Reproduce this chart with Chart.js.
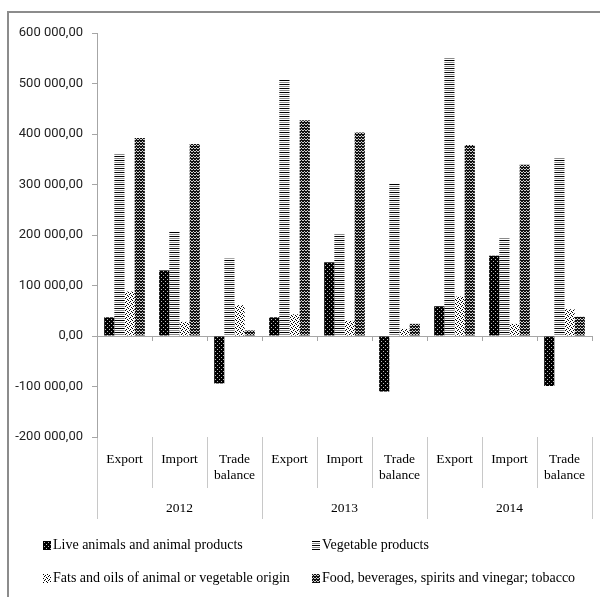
<!DOCTYPE html>
<html>
<head>
<meta charset="utf-8">
<script src="https://cdn.jsdelivr.net/npm/chart.js@4.4.1/dist/chart.umd.min.js"></script>
<style>
  html, body { margin: 0; padding: 0; background: #fff; }
  #wrap { position: relative; width: 600px; height: 597px; overflow: hidden; }
  #frame { position: absolute; left: 7px; top: 11px; right: -2px; bottom: -2px;
           border-top: 2px solid #8c8c8c; border-left: 2px solid #8c8c8c; }
  #chart { position: absolute; left: 0; top: 0; }
  .leg { position: absolute; font: 14px "Liberation Serif", "Times New Roman", serif;
         color: #000; white-space: nowrap; line-height: 16px; }
  .leg i { display: inline-block; width: 8px; height: 9px; margin-right: 2px; vertical-align: -1px; }
</style>
</head>
<body>
<div id="wrap">
  <div id="frame"></div>
  <canvas id="chart" width="600" height="597"></canvas>
  <div id="legend"></div>
</div>
<script>
// categories (two levels) and series
const categories = ['Export', 'Import', ['Trade', 'balance'],
                    'Export', 'Import', ['Trade', 'balance'],
                    'Export', 'Import', ['Trade', 'balance']];
const years = ['2012', '2013', '2014'];

const seriesNames = [
  'Live animals and animal products',
  'Vegetable products',
  'Fats and oils of animal or vegetable origin',
  'Food, beverages, spirits and vinegar; tobacco'
];
const liveAnimals = [37000, 130000, -94000, 37000, 146000, -110000, 59000, 159000, -99000];
const vegetable   = [361000, 206000, 154000, 507000, 202000, 302000, 551000, 194000, 354000];
const fatsOils    = [88000, 28000, 61000, 43000, 30000, 14000, 78000, 24000, 53000];
const foodDrinks  = [392000, 380000, 11000, 427000, 403000, 24000, 378000, 339000, 38000];

const yTicks = { min: -200000, max: 600000, step: 100000 };

// small bitmap fills, one per series
function makePattern(rows, on, off) {
  const c = document.createElement('canvas');
  c.width = rows[0].length;
  c.height = rows.length;
  const g = c.getContext('2d');
  rows.forEach((r, yy) => {
    for (let xx = 0; xx < r.length; xx++) {
      g.fillStyle = r[xx] === 'x' ? on : (r[xx] === 'g' ? '#8a8a8a' : off);
      g.fillRect(xx, yy, 1, 1);
    }
  });
  return c;
}

const tiles = [
  makePattern(['xxxx', 'x.xx', 'xxxx', 'xxx.'], '#000', '#bdbdbd'),
  makePattern(['x', '.', 'g', '.'], '#000', '#fff'),
  makePattern(['x...', '..x.', '.x..', '...x'], '#000', '#fff'),
  makePattern(['x.x', '.x.', 'xxx'], '#111', '#d0d0d0')
];

const ctx = document.getElementById('chart').getContext('2d');
const fills = tiles.map(t => ctx.createPattern(t, 'repeat'));

function fmt(v) {
  const s = Math.abs(v).toFixed(0).replace(/\B(?=(\d{3})+(?!\d))/g, ' ');
  return (v < 0 ? '-' : '') + s + ',00';
}

// short tick marks on the zero line between categories
const zeroTicks = {
  id: 'zeroTicks',
  afterDatasetsDraw(chart) {
    const x = chart.scales.x, y = chart.scales.y;
    const y0 = Math.round(y.getPixelForValue(0));
    const half = (x.getPixelForTick(1) - x.getPixelForTick(0)) / 2;
    const c = chart.ctx;
    c.save();
    c.strokeStyle = '#a6a6a6';
    c.lineWidth = 1;
    c.beginPath();
    for (let i = 0; i <= categories.length; i++) {
      const px = Math.round(x.getPixelForTick(0) - half + i * 2 * half) + 0.5;
      c.moveTo(px, y0);
      c.lineTo(px, y0 + 5);
    }
    c.stroke();
    c.restore();
  }
};

const serif = { family: '"Liberation Serif", "Times New Roman", serif', size: 13.5 };

new Chart(ctx, {
  type: 'bar',
  data: {
    labels: categories,
    datasets: [liveAnimals, vegetable, fatsOils, foodDrinks].map((d, i) => ({
      label: seriesNames[i],
      data: d,
      backgroundColor: fills[i],
      borderWidth: 0
    }))
  },
  options: {
    responsive: false,
    animation: false,
    datasets: { bar: { categoryPercentage: 0.74, barPercentage: 1.0 } },
    layout: { padding: { left: 0, right: 8, top: 33, bottom: 78 } },
    plugins: { legend: { display: false }, tooltip: { enabled: false } },
    scales: {
      y: {
        min: yTicks.min,
        max: yTicks.max,
        afterFit: s => { s.width = 97; },
        ticks: {
          stepSize: yTicks.step,
          padding: 9,
          color: '#222',
          font: { family: 'Roboto, "Open Sans", sans-serif', size: 13 },
          callback: v => fmt(v)
        },
        grid: {
          drawOnChartArea: true,
          tickLength: 5,
          tickColor: '#a6a6a6',
          color: c => (c.tick && c.tick.value === 0) ? '#a6a6a6' : 'rgba(0,0,0,0)'
        },
        border: { display: true, color: '#a6a6a6' }
      },
      x: {
        type: 'category',
        position: 'bottom',
        weight: 0,
        offset: true,
        afterFit: s => { s.height = 51; },
        grid: { offset: true, drawOnChartArea: false, tickLength: 51, color: '#c8c8c8' },
        border: { display: false },
        ticks: { padding: -37, color: '#000', font: serif, maxRotation: 0, autoSkip: false }
      },
      x2: {
        type: 'category',
        labels: years,
        position: 'bottom',
        weight: 1,
        offset: true,
        afterFit: s => { s.height = 31; },
        grid: { offset: true, drawOnChartArea: false, tickLength: 31, color: '#c8c8c8' },
        border: { display: false },
        ticks: { padding: -19, color: '#000', font: serif, maxRotation: 0, autoSkip: false }
      }
    }
  },
  plugins: [zeroTicks]
});

// legend in two fixed columns
const legendPos = [[43, 537], [312, 537], [43, 570], [312, 570]];
const legend = document.getElementById('legend');
seriesNames.forEach((name, i) => {
  const d = document.createElement('div');
  d.className = 'leg';
  d.style.left = legendPos[i][0] + 'px';
  d.style.top = legendPos[i][1] + 'px';
  const m = document.createElement('i');
  m.style.backgroundImage = 'url(' + tiles[i].toDataURL() + ')';
  d.appendChild(m);
  d.appendChild(document.createTextNode(name));
  legend.appendChild(d);
});
</script>
</body>
</html>
